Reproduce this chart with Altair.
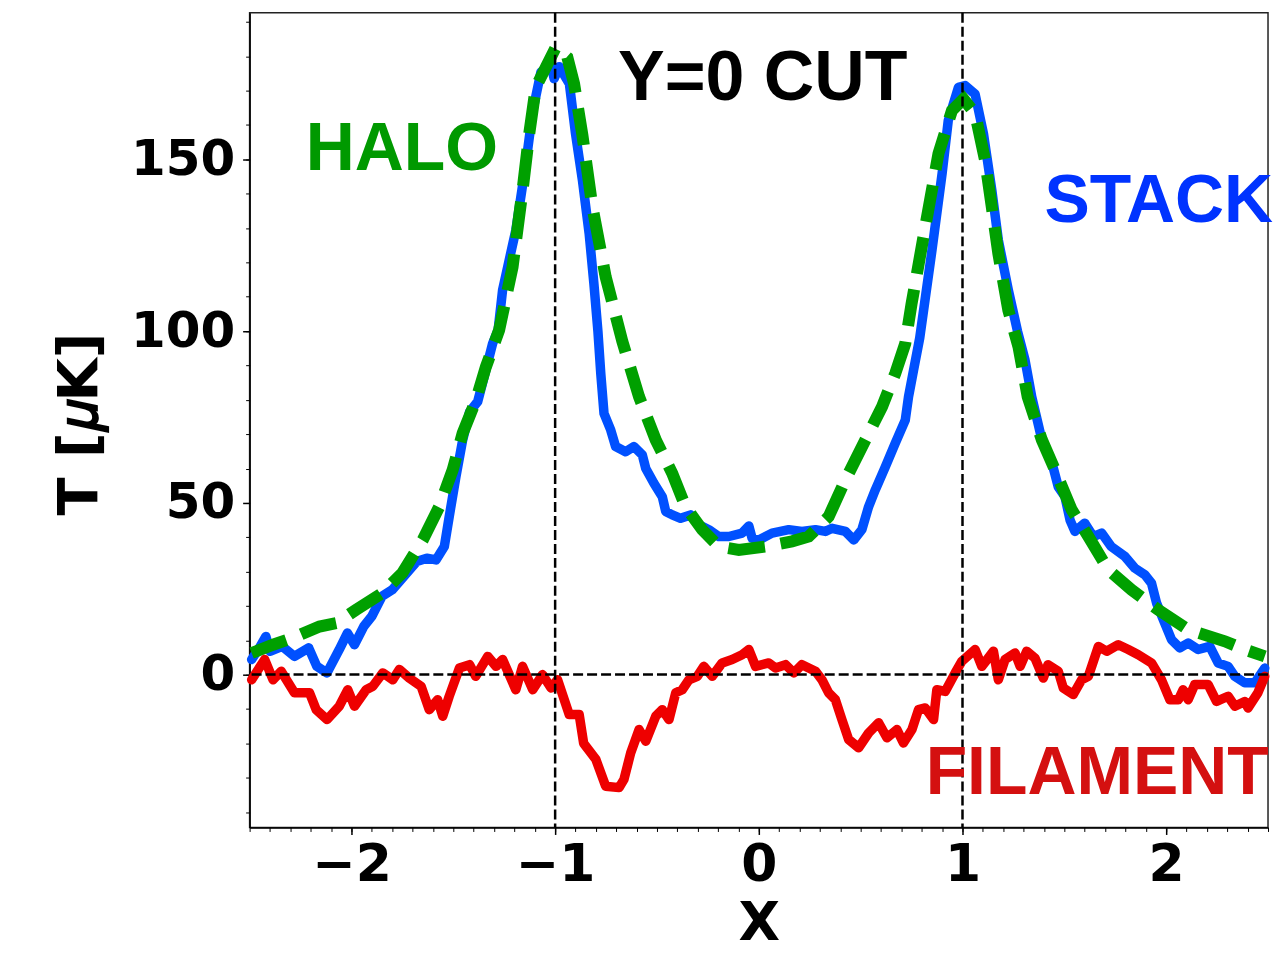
import altair as alt
import pandas as pd

# ---------------- data ----------------
stack_x = [-2.49, -2.45, -2.42, -2.40, -2.34, -2.28, -2.21, -2.17, -2.12, -2.06, -2.02, -1.985, -1.94, -1.90,
           -1.85, -1.80, -1.75, -1.68, -1.63, -1.585, -1.544, -1.52, -1.487, -1.454, -1.42, -1.38, -1.34, -1.307,
           -1.28, -1.258, -1.193, -1.144, -1.11, -1.07, -1.02, -1.005, -0.98, -0.93, -0.90, -0.866, -0.833, -0.81,
           -0.79, -0.776, -0.76, -0.727, -0.703, -0.654, -0.613, -0.572, -0.555, -0.515, -0.474, -0.457, -0.425,
           -0.384, -0.335, -0.294, -0.245, -0.196, -0.147, -0.082, -0.049, -0.033, 0.0, 0.065, 0.147, 0.212, 0.278,
           0.327, 0.36, 0.425, 0.466, 0.506, 0.539, 0.572, 0.621, 0.67, 0.719, 0.735, 0.76, 0.79, 0.85, 0.90, 0.93,
           0.98, 1.013, 1.062, 1.103, 1.144, 1.176, 1.225, 1.27, 1.307, 1.34, 1.39, 1.44, 1.47, 1.503, 1.528, 1.552,
           1.60, 1.642, 1.683, 1.73, 1.797, 1.846, 1.895, 1.928, 1.953, 1.993, 2.026, 2.067, 2.108, 2.157, 2.214,
           2.255, 2.304, 2.337, 2.386, 2.435, 2.484]
stack_y = [4.4, 8.0, 11.1, 6.8, 8.2, 5.3, 7.8, 2.4, 0.5, 7.3, 12.1, 8.7, 14.0, 17.0,
           22.8, 24.7, 28.1, 32.9, 33.9, 33.4, 37.3, 46.0, 57.6, 68.3, 76.5, 79.5, 88.7, 96.4,
           100.3, 112.0, 129.4, 148.7, 164.0, 175.4, 177.8, 173.5, 177.0, 172.0, 157.5, 143.9, 128.4, 114.0,
           100.0, 87.7, 76.0, 71.2, 66.4, 64.9, 66.4, 64.0, 60.0, 55.7, 51.8, 47.5, 46.5,
           45.5, 46.5, 43.6, 42.2, 40.2, 40.2, 41.2, 43.3, 39.7, 39.2, 41.2, 42.2, 41.7, 42.2,
           41.7, 42.6, 41.7, 39.2, 42.2, 48.9, 53.8, 60.5, 67.4, 74.1, 80.9, 88.7, 98.0, 123.5, 145.9, 161.3,
           171.0, 171.5, 169.0, 157.5, 141.0, 126.5, 112.0, 100.0, 91.6, 80.9, 68.3, 61.5, 54.7, 51.8, 45.0, 41.7,
           44.1, 40.2, 41.2, 37.3, 34.4, 31.0, 29.1, 26.6, 20.8, 15.0, 10.2, 7.8, 9.2, 7.3, 8.2,
           3.4, 2.4, -0.5, -2.4, -2.4, 1.9]

halo_x = [-2.49, -2.385, -2.287, -2.157, -2.075, -1.977, -1.85, -1.75, -1.65, -1.569, -1.503, -1.454, -1.389,
          -1.34, -1.275, -1.209, -1.16, -1.127, -1.095, -1.046, -0.997, -0.94, -0.907, -0.866, -0.817, -0.752,
          -0.67, -0.588, -0.506, -0.425, -0.36, -0.278, -0.196, -0.098, 0.033, 0.163, 0.245, 0.343, 0.425, 0.523,
          0.605, 0.67, 0.719, 0.75, 0.817, 0.882, 0.948, 1.005, 1.062, 1.111, 1.144, 1.176, 1.225, 1.275, 1.32,
          1.39, 1.454, 1.536, 1.618, 1.716, 1.83, 1.96, 2.108, 2.288, 2.386, 2.484]
halo_y = [6.3, 8.7, 10.7, 14.0, 15.0, 18.9, 23.7, 29.6, 39.2, 48.9, 59.6, 70.3, 79.9,
          89.6, 100.3, 118.7, 141.0, 157.5, 171.0, 176.8, 182.6, 179.7, 172.0, 157.0, 136.1, 115.8,
          97.0, 80.9, 68.3, 58.6, 48.9, 42.2, 37.3, 36.3, 37.3, 38.8, 40.2, 46.0, 56.7, 68.3,
          78.0, 87.7, 96.4, 108.0, 130.3, 151.7, 164.2, 167.6, 163.3, 149.7, 136.1, 122.6, 106.1, 95.4, 80.9,
          68.3, 59.6, 48.0, 40.2, 30.5, 24.7, 18.9, 13.1, 9.7, 7.3, 5.3]

fil_x = [-2.49, -2.426, -2.385, -2.345, -2.28, -2.206, -2.173, -2.12, -2.06, -2.018, -1.985, -1.928, -1.895,
         -1.846, -1.797, -1.765, -1.716, -1.658, -1.618, -1.577, -1.552, -1.52, -1.47, -1.42, -1.39, -1.331,
         -1.29, -1.258, -1.193, -1.16, -1.11, -1.062, -1.02, -0.988, -0.931, -0.882, -0.86, -0.80, -0.752,
         -0.686, -0.662, -0.629, -0.588, -0.555, -0.506, -0.474, -0.441, -0.408, -0.376, -0.343, -0.302, -0.27,
         -0.229, -0.18, -0.131, -0.082, -0.049, -0.016, 0.049, 0.082, 0.131, 0.172, 0.212, 0.278, 0.31, 0.343,
         0.376, 0.408, 0.441, 0.49, 0.539, 0.588, 0.629, 0.678, 0.71, 0.752, 0.784, 0.817, 0.858, 0.874, 0.915,
         0.964, 0.997, 1.062, 1.095, 1.152, 1.176, 1.209, 1.258, 1.283, 1.315, 1.356, 1.397, 1.42, 1.47, 1.495,
         1.544, 1.585, 1.618, 1.667, 1.708, 1.765, 1.814, 1.863, 1.928, 1.977, 2.018, 2.06, 2.083, 2.108, 2.14,
         2.206, 2.247, 2.304, 2.337, 2.386, 2.402, 2.45, 2.484]
fil_y = [-1.5, 4.4, -1.5, 1.0, -5.3, -5.3, -10.2, -13.1, -9.2, -4.4, -9.2, -4.4, -3.4,
         0.5, -1.5, 1.5, -1.0, -3.4, -10.2, -7.3, -12.1, -6.3, 1.9, 2.9, -0.5, 5.3,
         2.4, 4.4, -4.4, 2.4, -4.4, 0.0, -3.9, -1.5, -11.6, -11.6, -20.0, -24.7, -32.5,
         -32.9, -30.5, -22.8, -16.0, -19.4, -12.1, -10.2, -13.1, -5.3, -4.4, -1.5, -0.5, 2.4,
         -0.5, 3.4, 4.4, 5.8, 7.3, 2.4, 3.4, 1.9, 2.9, 0.5, 2.9, 1.0, -1.5, -5.3,
         -7.3, -13.1, -18.9, -21.3, -17.0, -14.0, -18.4, -16.0, -19.9, -16.0, -10.2, -9.7, -13.1, -4.4, -4.9,
         0.5, 3.9, 7.3, 2.4, 6.8, -1.5, 4.4, 6.3, 2.4, 6.8, 4.8, -1.0, 2.9, 1.0, -3.9,
         -5.8, -1.5, -0.5, 8.2, 6.8, 8.7, 7.3, 5.8, 3.4, -1.5, -7.3, -7.3, -4.4, -7.3, -2.9,
         -2.9, -7.8, -6.3, -9.2, -7.8, -9.7, -5.3, -0.5]

x_major = [-2, -1, 0, 1, 2]
x_minor = [round(-2.5 + 0.1 * i, 1) for i in range(51)]
y_major = [0, 50, 100, 150]
y_minor = list(range(-40, 191, 10))

vlines = [-1, 1]
hlines = [0]

label_text = ["Y=0 CUT", "HALO", "STACK", "FILAMENT"]
label_x = [-0.691, -2.225, 1.402, 0.819]
label_y = [167.4, 146.8, 131.7, -34.9]
label_color = ["#000000", "#009900", "#0033ff", "#d41010"]
label_size = [70, 68, 68, 68]

# ---------------- chart ----------------
xs = alt.Scale(domain=[-2.5, 2.5], nice=False, zero=False)
ys = alt.Scale(domain=[-44.5, 192.7], nice=False, zero=False)

stack_df = pd.DataFrame({"x": stack_x, "y": stack_y})
halo_df = pd.DataFrame({"x": halo_x, "y": halo_y})
fil_df = pd.DataFrame({"x": fil_x, "y": fil_y})

x_axis = alt.Axis(values=x_major, title="X", grid=False, tickSize=7, tickWidth=1.5, tickColor="#000",
                  labelFont="DejaVu Sans", labelFontWeight="bold", labelFontSize=52, labelColor="#000",
                  labelPadding=5, domainColor="#000", domainWidth=1.5, labelFlush=False,
                  titleFont="DejaVu Sans", titleFontWeight="bold", titleFontSize=54, titleColor="#000",
                  titleX=510, titleY=112, titleAlign="center", titleBaseline="alphabetic")
y_axis = alt.Axis(values=y_major, title="T [𝜇K]", grid=False, tickSize=7, tickWidth=1.5, tickColor="#000",
                  labelFont="DejaVu Sans", labelFontWeight="bold", labelFontSize=50, labelColor="#000",
                  labelPadding=8, domainColor="#000", domainWidth=1.5, labelFlush=False,
                  titleFont="DejaVu Sans", titleFontWeight="bold", titleFontSize=56, titleColor="#000",
                  titleAngle=270, titleX=-153, titleY=411.5, titleAlign="center", titleBaseline="alphabetic")

x_minor_axis = alt.Axis(values=x_minor, title=None, labels=False, grid=False, domain=False, orient="bottom",
                        tickSize=4, tickWidth=1, tickColor="#000")
y_minor_axis = alt.Axis(values=y_minor, title=None, labels=False, grid=False, domain=False, orient="left",
                        tickSize=4, tickWidth=1, tickColor="#000")

stack_line = alt.Chart(stack_df).mark_line(color="#0050ff", strokeWidth=9.5, strokeJoin="round",
                                           strokeCap="round").encode(
    x=alt.X("x:Q", scale=xs, axis=x_axis),
    y=alt.Y("y:Q", scale=ys, axis=y_axis),
)
halo_line = alt.Chart(halo_df).mark_line(color="#00a000", strokeWidth=12, strokeDash=[37, 16]).encode(
    x=alt.X("x:Q", scale=xs, axis=x_minor_axis),
    y=alt.Y("y:Q", scale=ys, axis=y_minor_axis),
)
fil_line = alt.Chart(fil_df).mark_line(color="#ee0000", strokeWidth=9.5, strokeJoin="round",
                                       strokeCap="round").encode(
    x=alt.X("x:Q", scale=xs, axis=None),
    y=alt.Y("y:Q", scale=ys, axis=None),
)
vrule = alt.Chart(pd.DataFrame({"x": vlines})).mark_rule(color="#000", strokeWidth=2.5, strokeDash=[10, 4]).encode(
    x=alt.X("x:Q", scale=xs, axis=None),
)
hrule = alt.Chart(pd.DataFrame({"y": hlines})).mark_rule(color="#000", strokeWidth=2.5, strokeDash=[10, 4]).encode(
    y=alt.Y("y:Q", scale=ys, axis=None),
)
labels = alt.Chart(pd.DataFrame({"x": label_x, "y": label_y, "t": label_text, "c": label_color,
                                 "s": label_size})).mark_text(
    align="left", baseline="alphabetic", font="Liberation Sans", fontWeight="bold").encode(
    x=alt.X("x:Q", scale=xs, axis=None),
    y=alt.Y("y:Q", scale=ys, axis=None),
    text="t:N",
    color=alt.Color("c:N", scale=None),
    size=alt.Size("s:Q", scale=None),
)

chart = alt.layer(stack_line, halo_line, fil_line, vrule, hrule, labels).resolve_axis(
    x="independent", y="independent"
).properties(
    width=1020, height=816,
    autosize=alt.AutoSizeParams(type="none"),
    padding={"left": 242, "top": 4, "right": 10, "bottom": 127},
    background="white",
).configure_view(stroke="#222", strokeWidth=1.5)

chart.save("out.html", embed_options={"renderer": "svg", "actions": False})
